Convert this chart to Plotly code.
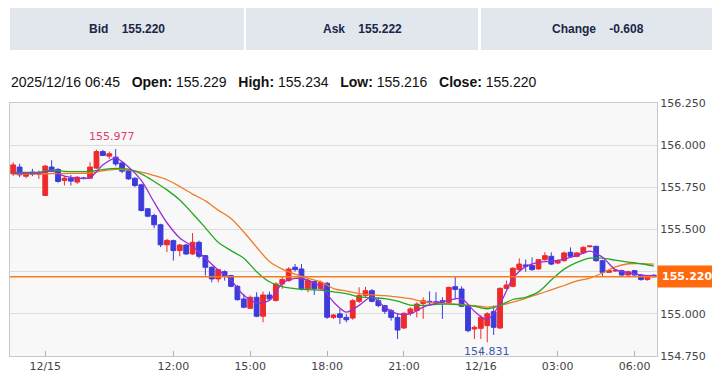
import plotly.graph_objects as go
import pandas as pd

# ---------------- data ----------------
bid, ask, change = "155.220", "155.222", "-0.608"
last_time = "2025/12/16 06:45"
last_open, last_high, last_low, last_close = "155.229", "155.234", "155.216", "155.220"

times = ([t.strftime("%m/%d %H:%M") for t in pd.date_range("2025-12-13 05:45", periods=5, freq="15min")] +
         [t.strftime("%m/%d %H:%M") for t in pd.date_range("2025-12-15 07:00", periods=96, freq="15min")])

opens = [155.830, 155.870, 155.816, 155.840, 155.828, 155.702, 155.870, 155.856, 155.791, 155.804,
         155.781, 155.806, 155.804, 155.864, 155.962, 155.935, 155.929, 155.895, 155.850, 155.804,
         155.765, 155.623, 155.583, 155.528, 155.409, 155.434, 155.375, 155.408, 155.355, 155.424,
         155.345, 155.276, 155.207, 155.250, 155.227, 155.163, 155.088, 155.033, 155.098, 154.986,
         155.112, 155.079, 155.177, 155.197, 155.276, 155.266, 155.148, 155.191, 155.148, 155.181,
         154.979, 155.000, 154.979, 154.975, 155.074, 155.108, 155.137, 155.078, 155.049, 155.019,
         154.979, 154.916, 155.003, 155.019, 155.062, 155.074, 155.072, 155.078, 155.068, 155.161,
         155.147, 155.045, 154.910, 154.914, 154.930, 155.013, 154.916, 155.151, 155.163, 155.262,
         155.290, 155.286, 155.266, 155.321, 155.341, 155.301, 155.315, 155.365, 155.341, 155.361,
         155.398, 155.400, 155.315, 155.246, 155.254, 155.256, 155.230, 155.256, 155.230, 155.203,
         155.229]
highs = [155.899, 155.889, 155.840, 155.860, 155.850, 155.883, 155.911, 155.864, 155.816, 155.824,
         155.816, 155.812, 155.899, 155.972, 155.972, 155.962, 155.977, 155.903, 155.856, 155.810,
         155.771, 155.627, 155.593, 155.534, 155.445, 155.440, 155.414, 155.414, 155.479, 155.434,
         155.349, 155.282, 155.266, 155.258, 155.231, 155.171, 155.118, 155.108, 155.128, 155.132,
         155.132, 155.187, 155.223, 155.276, 155.296, 155.296, 155.207, 155.197, 155.197, 155.190,
         154.999, 155.029, 154.999, 155.088, 155.157, 155.160, 155.147, 155.098, 155.053, 155.029,
         155.005, 155.009, 155.039, 155.068, 155.098, 155.133, 155.128, 155.098, 155.161, 155.224,
         155.163, 155.053, 154.930, 154.993, 155.010, 155.049, 155.157, 155.197, 155.276, 155.329,
         155.322, 155.335, 155.325, 155.365, 155.365, 155.323, 155.369, 155.394, 155.367, 155.400,
         155.404, 155.404, 155.321, 155.262, 155.260, 155.262, 155.256, 155.260, 155.236, 155.230,
         155.234]
lows = [155.816, 155.810, 155.804, 155.816, 155.800, 155.698, 155.840, 155.777, 155.761, 155.761,
        155.771, 155.797, 155.800, 155.860, 155.935, 155.919, 155.876, 155.834, 155.795, 155.751,
        155.607, 155.573, 155.508, 155.396, 155.366, 155.316, 155.341, 155.349, 155.349, 155.329,
        155.227, 155.187, 155.187, 155.197, 155.158, 155.079, 155.033, 155.029, 154.980, 154.950,
        155.079, 155.073, 155.148, 155.191, 155.250, 155.138, 155.128, 155.112, 155.138, 154.970,
        154.970, 154.940, 154.950, 154.965, 155.064, 155.100, 155.068, 155.039, 155.000, 154.960,
        154.851, 154.910, 154.989, 154.979, 154.970, 155.049, 155.058, 154.970, 155.058, 155.085,
        155.039, 154.891, 154.851, 154.851, 154.831, 154.875, 154.910, 155.143, 155.157, 155.250,
        155.250, 155.255, 155.262, 155.315, 155.289, 155.295, 155.309, 155.335, 155.335, 155.355,
        155.394, 155.309, 155.222, 155.242, 155.248, 155.226, 155.226, 155.226, 155.197, 155.197,
        155.216]
closes = [155.883, 155.824, 155.834, 155.828, 155.834, 155.876, 155.846, 155.785, 155.804, 155.787,
          155.810, 155.802, 155.870, 155.962, 155.939, 155.949, 155.889, 155.846, 155.800, 155.761,
          155.613, 155.579, 155.528, 155.409, 155.435, 155.375, 155.408, 155.355, 155.424, 155.341,
          155.276, 155.207, 155.262, 155.223, 155.163, 155.084, 155.039, 155.098, 154.986, 155.112,
          155.088, 155.177, 155.203, 155.266, 155.262, 155.148, 155.197, 155.148, 155.187, 154.980,
          154.993, 154.979, 154.965, 155.078, 155.108, 155.137, 155.074, 155.049, 155.015, 154.979,
          154.904, 155.003, 155.029, 155.058, 155.078, 155.066, 155.066, 155.068, 155.157, 155.145,
          155.045, 154.900, 154.920, 154.979, 155.000, 154.920, 155.151, 155.171, 155.270, 155.295,
          155.282, 155.262, 155.321, 155.345, 155.295, 155.315, 155.361, 155.341, 155.361, 155.394,
          155.402, 155.315, 155.246, 155.256, 155.258, 155.230, 155.250, 155.230, 155.203, 155.226,
          155.220]

ma_idx = [0, 4, 6, 8, 10, 12, 14, 16, 18, 20, 22, 24, 26, 28, 30, 32, 34, 36, 38, 40, 42, 44, 46, 48, 50,
          52, 54, 56, 58, 60, 62, 64, 66, 68, 70, 72, 74, 76, 78, 80, 82, 84, 86, 88, 90, 92, 94, 96, 98, 100]
ma_short = [155.835, 155.835, 155.846, 155.816, 155.804, 155.808, 155.883, 155.923, 155.870, 155.791,
            155.662, 155.540, 155.450, 155.400, 155.330, 155.260, 155.200, 155.110, 155.065, 155.080,
            155.180, 155.210, 155.200, 155.160, 155.070, 155.010, 155.050, 155.100, 155.040, 155.000,
            155.000, 155.040, 155.062, 155.080, 155.090, 155.015, 154.965, 155.060, 155.210, 155.280,
            155.305, 155.312, 155.325, 155.345, 155.372, 155.335, 155.262, 155.244, 155.230, 155.226]
ma_mid = [155.838, 155.840, 155.852, 155.845, 155.843, 155.845, 155.855, 155.862, 155.858, 155.830,
          155.785, 155.735, 155.675, 155.595, 155.510, 155.424, 155.375, 155.330, 155.250, 155.190,
          155.162, 155.150, 155.144, 155.140, 155.130, 155.120, 155.100, 155.095, 155.090, 155.075,
          155.052, 155.050, 155.056, 155.057, 155.052, 155.045, 155.030, 155.050, 155.085, 155.098,
          155.130, 155.200, 155.265, 155.305, 155.330, 155.330, 155.318, 155.307, 155.297, 155.283]
ma_long = [155.828, 155.830, 155.831, 155.832, 155.833, 155.835, 155.848, 155.856, 155.852, 155.840,
           155.820, 155.795, 155.755, 155.710, 155.670, 155.615, 155.565, 155.485, 155.395, 155.310,
           155.265, 155.235, 155.210, 155.190, 155.150, 155.135, 155.120, 155.112, 155.108, 155.100,
           155.090, 155.073, 155.065, 155.060, 155.055, 155.048, 155.040, 155.050, 155.070, 155.092,
           155.117, 155.142, 155.168, 155.195, 155.212, 155.242, 155.278, 155.297, 155.298, 155.295]

tick_idx = [5, 25, 37, 49, 61, 73, 85, 97]
tick_text = ["12/15", "12:00", "15:00", "18:00", "21:00", "12/16", "03:00", "06:00"]
y_ticks = [154.75, 155.0, 155.25, 155.5, 155.75, 156.0, 156.25]
y_tick_text = ["154.750", "155.000", "", "155.500", "155.750", "156.000", "156.250"]
current_price = 155.220
hi_idx, hi_val = 16, 155.977
lo_idx, lo_val = 74, 154.831

# ---------------- styling ----------------
RED = "#f02a2a"
BLUE = "#3c3cdc"
OFF = 8  # page body margin offset
W, H = 720, 381
ML, MR, MT, MB = 10 - OFF, W - (657 - OFF), 103 - OFF, H - (356 - OFF)
PW, PH = W - ML - MR, H - MT - MB


def px(x):  # page pixel -> paper
    return (x - OFF - ML) / PW


def py(y):
    return (H - MB - (y - OFF)) / PH


fig = go.Figure()
fig.add_trace(go.Candlestick(
    x=times, open=opens, high=highs, low=lows, close=closes,
    increasing=dict(line=dict(color=RED, width=1), fillcolor=RED),
    decreasing=dict(line=dict(color=BLUE, width=1), fillcolor=BLUE),
    whiskerwidth=0, showlegend=False, hoverinfo="skip"))

ma_x = [times[i] for i in ma_idx]
for vals, col in [(ma_long, "#f07b22"), (ma_mid, "#22a822"), (ma_short, "#9a2fd6")]:
    fig.add_trace(go.Scatter(x=ma_x, y=vals, mode="lines",
                             line=dict(color=col, width=1.3, shape="spline", smoothing=0.8),
                             showlegend=False, hoverinfo="skip"))

shapes = []
boxes = [(10, 244), (246, 478), (481, 714)]
for x0, x1 in boxes:
    shapes.append(dict(type="rect", xref="paper", yref="paper", x0=px(x0), x1=px(x1),
                       y0=py(50), y1=py(8), fillcolor="#e2e7ed", line=dict(width=0), layer="below"))
shapes.append(dict(type="line", xref="paper", yref="y", x0=0, x1=1, y0=current_price, y1=current_price,
                   line=dict(color="#f57c20", width=1.5), layer="above"))

annotations = []
hdr_font = dict(family="Liberation Sans, Arial", size=12, color="#1b2647")
for (x0, x1), label, val in zip(boxes, ["Bid", "Ask", "Change"], [bid, ask, change]):
    annotations.append(dict(xref="paper", yref="paper", x=px((x0 + x1) / 2), y=py(29),
                            text=f"<b>{label}&nbsp;&nbsp;&nbsp;&nbsp;{val}</b>", showarrow=False,
                            font=hdr_font, xanchor="center", yanchor="middle"))

info_font = dict(family="Liberation Sans, Arial", size=14, color="#111111")
info = (f"{last_time}&nbsp;&nbsp;&nbsp;<b>Open:</b> {last_open}&nbsp;&nbsp;&nbsp;"
        f"<b>High:</b> {last_high}&nbsp;&nbsp;&nbsp;<b>Low:</b> {last_low}&nbsp;&nbsp;&nbsp;"
        f"<b>Close:</b> {last_close}")
annotations.append(dict(xref="paper", yref="paper", x=px(9), y=py(82), text=info, showarrow=False,
                        font=info_font, xanchor="left", yanchor="middle"))

annotations.append(dict(xref="paper", yref="y", x=1, y=current_price, xanchor="left", yanchor="middle",
                        text="<b>155.220</b>", showarrow=False, bgcolor="#ff6a0e", borderpad=4,
                        font=dict(family="DejaVu Sans, Verdana", size=11, color="white"), xshift=0))
annotations.append(dict(x=times[hi_idx], y=hi_val, text=f"{hi_val:.3f}", showarrow=False,
                        yanchor="bottom", yshift=4, xshift=-4,
                        font=dict(family="DejaVu Sans, Verdana", size=11, color="#e0406a")))
annotations.append(dict(x=times[lo_idx], y=lo_val, text=f"{lo_val:.3f}", showarrow=False,
                        yanchor="top", yshift=-1,
                        font=dict(family="DejaVu Sans, Verdana", size=11, color="#3a5ab0")))

fig.update_layout(
    width=W, height=H, margin=dict(l=ML, r=MR, t=MT, b=MB, autoexpand=False),
    paper_bgcolor="white", plot_bgcolor="#f8f8f8", boxgap=0.25, boxgroupgap=0,
    shapes=shapes, annotations=annotations,
    xaxis=dict(type="category", range=[-0.5, len(times) - 0.5], rangeslider=dict(visible=False),
               showgrid=False, tickmode="array", tickvals=[times[i] for i in tick_idx], ticktext=tick_text,
               ticks="inside", ticklen=5, tickcolor="#b0b0b0", showline=True, linecolor="#c8c8c8",
               mirror=True, tickfont=dict(family="DejaVu Sans, Verdana", size=11, color="#444444"),
               fixedrange=True, automargin=False),
    yaxis=dict(side="right", range=[154.75, 156.25], tickmode="array", tickvals=y_ticks,
               ticktext=y_tick_text, showgrid=True, gridcolor="#dcdcdc", gridwidth=1,
               showline=True, linecolor="#c8c8c8", mirror=True, ticks="", automargin=False,
               tickfont=dict(family="DejaVu Sans, Verdana", size=11, color="#444444"), zeroline=False),
    font=dict(family="DejaVu Sans"),
)

fig.write_html("out.html")
